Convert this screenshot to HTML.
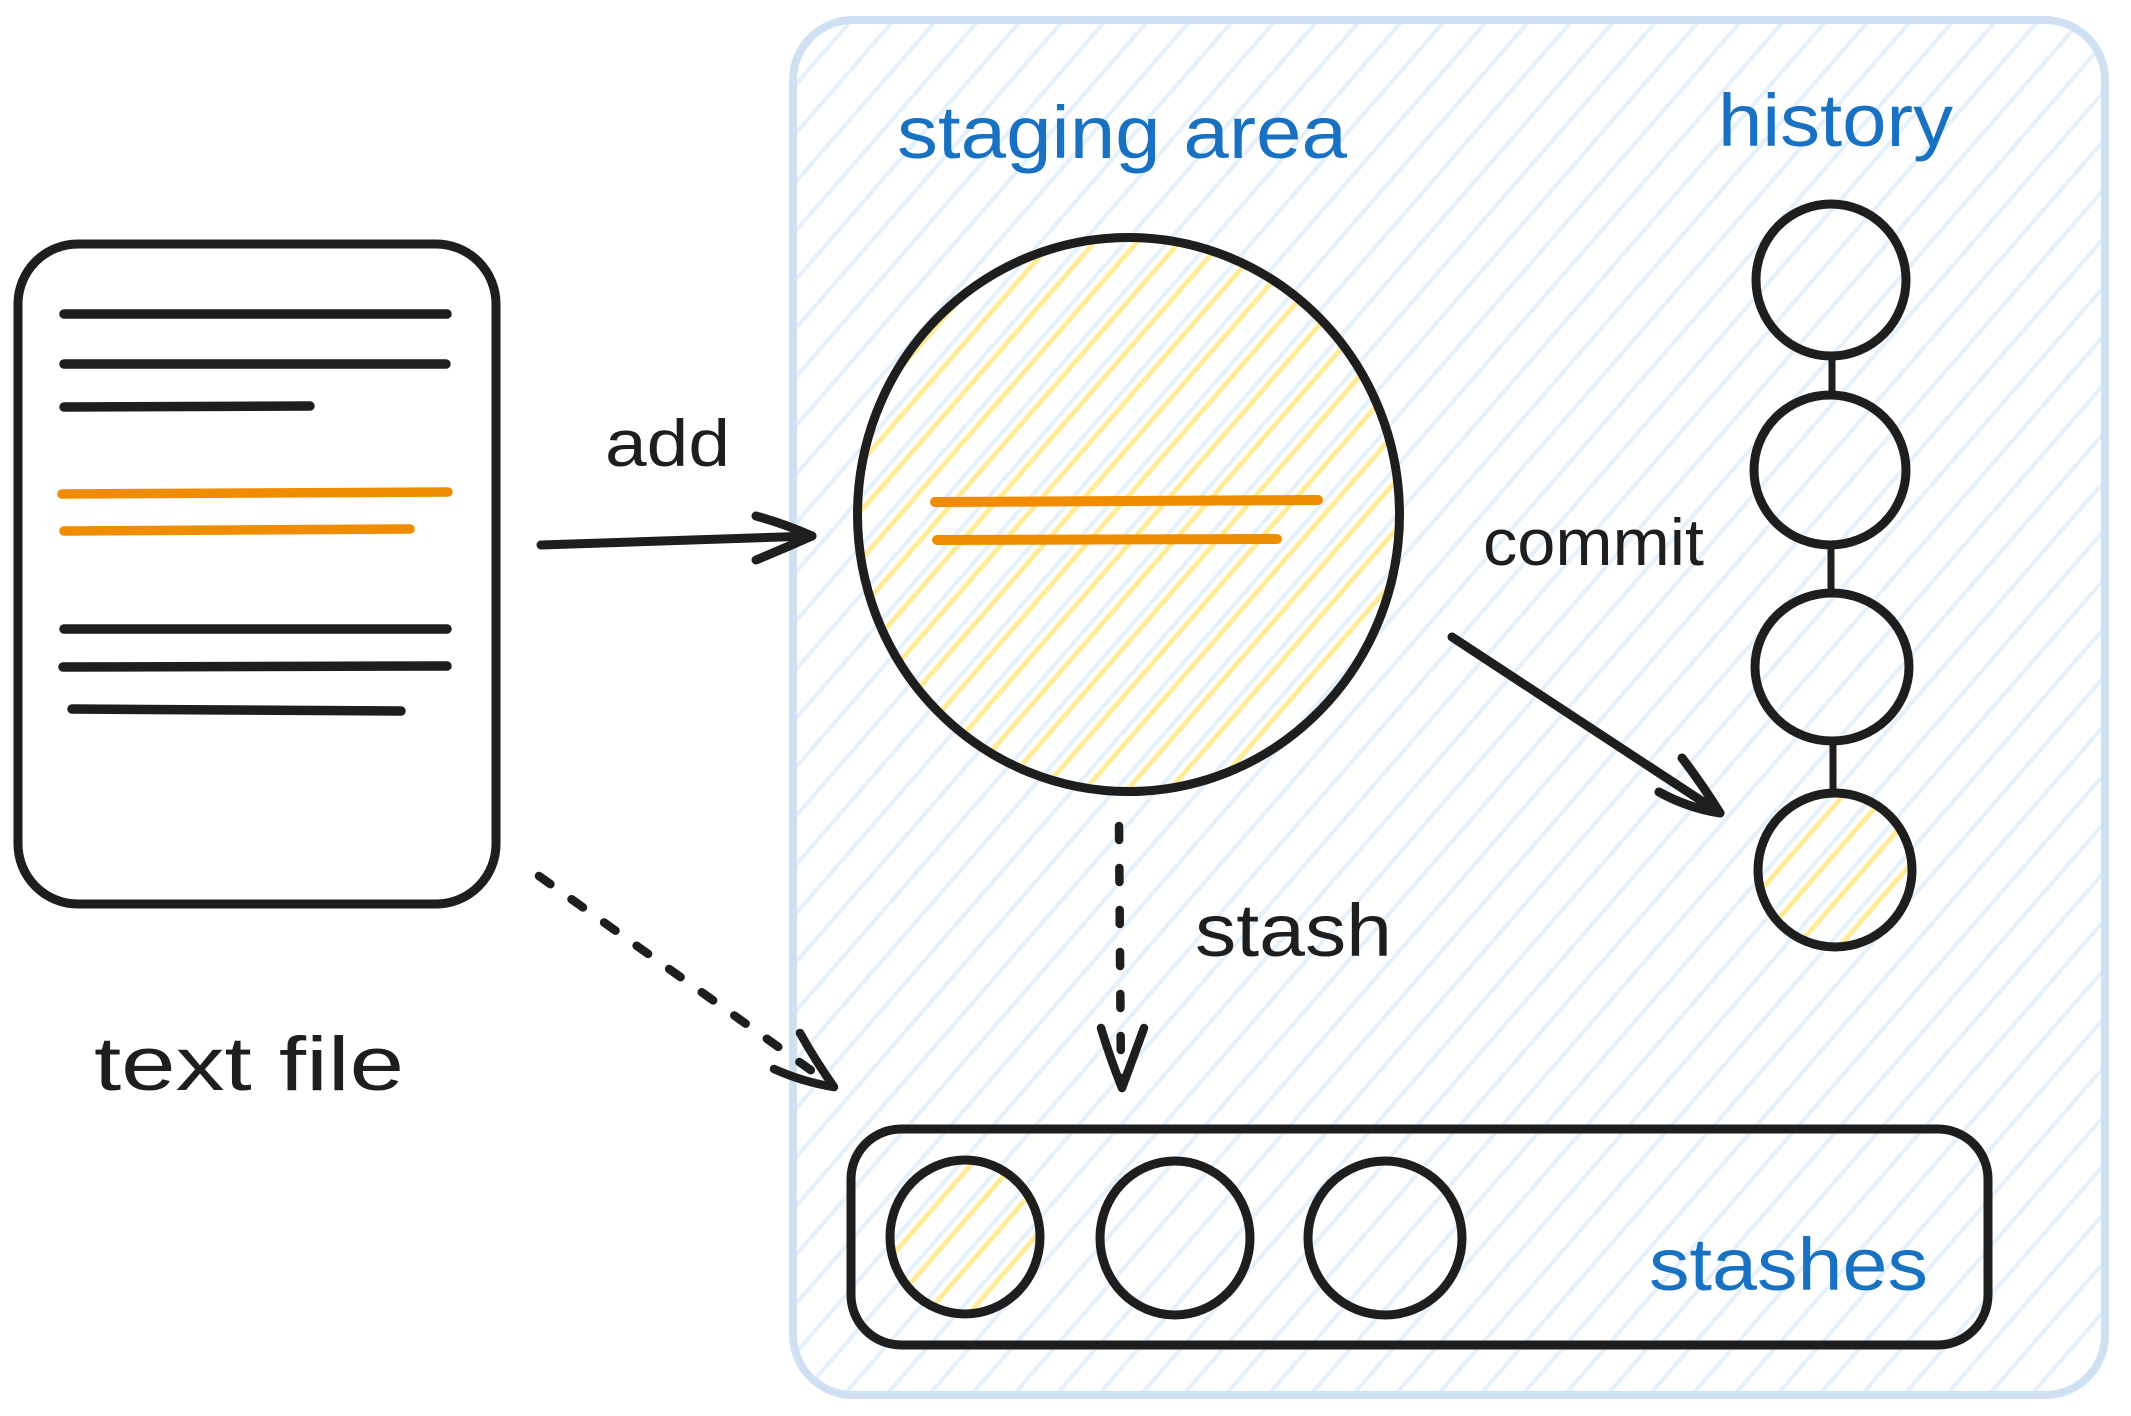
<!DOCTYPE html>
<html>
<head>
<meta charset="utf-8">
<style>
  html, body { margin: 0; padding: 0; background: #ffffff; }
  svg { display: block; }
  text { font-family: "Liberation Sans", "DejaVu Sans", sans-serif; }
</style>
</head>
<body>
<svg width="2131" height="1416" viewBox="0 0 2131 1416" xmlns="http://www.w3.org/2000/svg">
  <defs>
    <pattern id="hb" patternUnits="userSpaceOnUse" width="32" height="40" patternTransform="rotate(41)">
      <rect x="14" y="0" width="4" height="40" fill="#e4f1fd"/>
    </pattern>
    <pattern id="hy" patternUnits="userSpaceOnUse" width="32" height="40" patternTransform="rotate(41) translate(9,0)">
      <rect x="13.5" y="0" width="5" height="40" fill="#ffec99"/>
    </pattern>
  </defs>

  <rect x="0" y="0" width="2131" height="1416" fill="#ffffff"/>

  <!-- Container -->
  <rect x="793" y="20" width="1312" height="1375" rx="60" ry="60" fill="url(#hb)"/>
  <rect x="793" y="20" width="1312" height="1375" rx="60" ry="60" fill="none" stroke="#cfe0f2" stroke-width="8"/>

  <!-- File box -->
  <rect x="18" y="244" width="478" height="660" rx="60" ry="60" fill="#ffffff" stroke="#1e1e1e" stroke-width="9"/>
  <g stroke-linecap="round" stroke-width="9.5" fill="none">
    <line x1="64" y1="314" x2="447" y2="314" stroke="#1e1e1e"/>
    <line x1="64" y1="364" x2="446" y2="364" stroke="#1e1e1e"/>
    <line x1="64" y1="407" x2="310" y2="406" stroke="#1e1e1e"/>
    <line x1="62" y1="494" x2="448" y2="492" stroke="#f08c00"/>
    <line x1="64" y1="531" x2="410" y2="529" stroke="#f08c00"/>
    <line x1="64" y1="629" x2="447" y2="629" stroke="#1e1e1e"/>
    <line x1="63" y1="667" x2="447" y2="666" stroke="#1e1e1e"/>
    <line x1="72" y1="709" x2="401" y2="711" stroke="#1e1e1e"/>
  </g>

  <!-- text file label -->
  <text x="94" y="1090" font-size="76" fill="#1e1e1e" textLength="310" lengthAdjust="spacingAndGlyphs">text file</text>

  <!-- add arrow -->
  <text x="605" y="466" font-size="66" fill="#1e1e1e" textLength="125" lengthAdjust="spacingAndGlyphs">add</text>
  <g stroke="#1e1e1e" stroke-width="9" stroke-linecap="round" stroke-linejoin="round" fill="none">
    <path d="M541 545 L812 536"/>
    <path d="M756 516 Q785 524 812 536 Q785 548 756 560"/>
  </g>

  <!-- dashed arrow file -> stash -->
  <g stroke="#1e1e1e" stroke-width="8.5" stroke-linecap="round" stroke-linejoin="round" fill="none">
    <path d="M539 876 L826 1081" stroke-dasharray="14 26"/>
    <path d="M800 1033 Q815 1060 834 1087 Q803 1082 774 1069"/>
  </g>

  <!-- Staging area circle -->
  <ellipse cx="1128.5" cy="514.5" rx="271" ry="277" fill="url(#hy)"/>
  <ellipse cx="1128.5" cy="514.5" rx="271" ry="277" fill="none" stroke="#1e1e1e" stroke-width="9"/>
  <g stroke="#f08c00" stroke-width="10" stroke-linecap="round">
    <line x1="935" y1="502" x2="1318" y2="500"/>
    <line x1="937" y1="540" x2="1277" y2="539"/>
  </g>

  <!-- labels blue -->
  <text x="897" y="158" font-size="74" fill="#1971c2" textLength="450" lengthAdjust="spacingAndGlyphs">staging area</text>
  <text x="1718" y="146" font-size="74" fill="#1971c2" textLength="235" lengthAdjust="spacingAndGlyphs">history</text>

  <!-- commit -->
  <text x="1483" y="565" font-size="66" fill="#1e1e1e" textLength="221" lengthAdjust="spacingAndGlyphs">commit</text>
  <g stroke="#1e1e1e" stroke-width="9" stroke-linecap="round" stroke-linejoin="round" fill="none">
    <path d="M1452 637 L1720 813"/>
    <path d="M1682 758 Q1702 784 1720 813 Q1688 808 1659 792"/>
  </g>

  <!-- History -->
  <g stroke="#1e1e1e" stroke-width="7" stroke-linecap="round">
    <line x1="1832" y1="356" x2="1832" y2="396"/>
    <line x1="1831" y1="545" x2="1831" y2="593"/>
    <line x1="1833" y1="740" x2="1833" y2="792"/>
  </g>
  <ellipse cx="1835" cy="870" rx="77" ry="77" fill="url(#hy)"/>
  <g fill="none" stroke="#1e1e1e" stroke-width="9">
    <ellipse cx="1831" cy="280" rx="75" ry="76"/>
    <ellipse cx="1830" cy="470" rx="76" ry="75"/>
    <ellipse cx="1832" cy="667" rx="77" ry="74"/>
    <ellipse cx="1835" cy="870" rx="77" ry="77"/>
  </g>

  <!-- stash dashed arrow -->
  <text x="1195" y="956" font-size="74" fill="#1e1e1e" textLength="197" lengthAdjust="spacingAndGlyphs">stash</text>
  <g stroke="#1e1e1e" stroke-width="8.5" stroke-linecap="round" stroke-linejoin="round" fill="none">
    <path d="M1119 826 L1121 1080" stroke-dasharray="14 28"/>
    <path d="M1101 1028 Q1110 1058 1122 1088 Q1133 1058 1144 1028"/>
  </g>

  <!-- Stashes box -->
  <rect x="851" y="1129" width="1137" height="216" rx="50" ry="50" fill="none" stroke="#1e1e1e" stroke-width="9"/>
  <ellipse cx="965" cy="1237" rx="75" ry="77" fill="url(#hy)"/>
  <g fill="none" stroke="#1e1e1e" stroke-width="9">
    <ellipse cx="965" cy="1237" rx="75" ry="77"/>
    <ellipse cx="1175" cy="1238" rx="75" ry="77"/>
    <ellipse cx="1385" cy="1238" rx="77" ry="77"/>
  </g>
  <text x="1649" y="1290" font-size="74" fill="#1971c2" textLength="279" lengthAdjust="spacingAndGlyphs">stashes</text>
</svg>
</body>
</html>
